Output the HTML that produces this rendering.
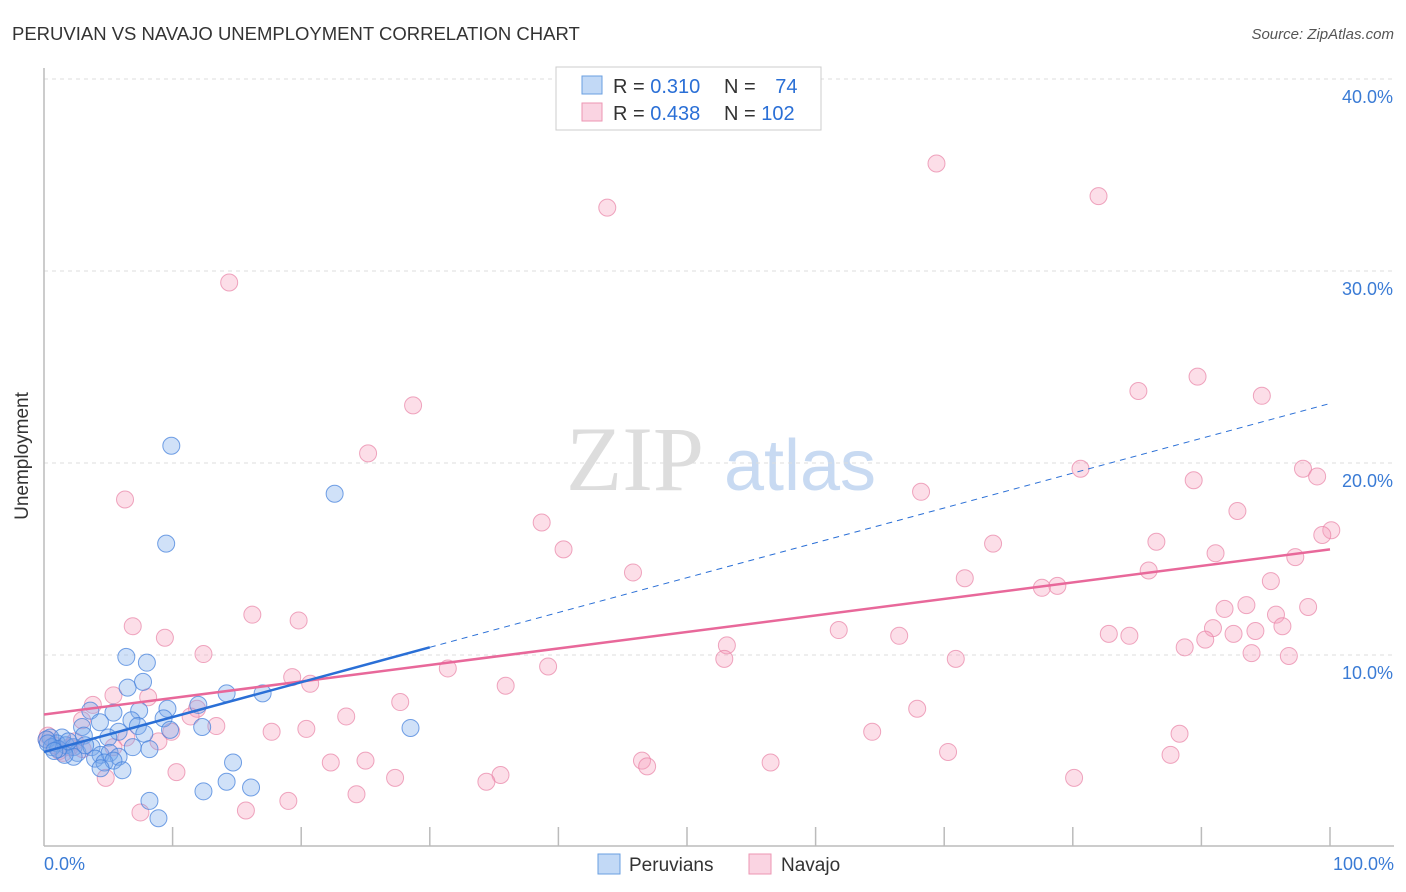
<!DOCTYPE html>
<html><head><meta charset="utf-8"><style>
body{margin:0;background:#fff;font-family:"Liberation Sans",sans-serif;}
svg{display:block}
</style></head><body>
<svg id="chart" width="1406" height="892">
<text x="12" y="40" font-size="18.5" fill="#333">PERUVIAN VS NAVAJO UNEMPLOYMENT CORRELATION CHART</text>
<text x="1394" y="39" font-size="15" fill="#555" font-style="italic" text-anchor="end">Source: ZipAtlas.com</text>
<g>
<text x="635" y="490" font-size="92" fill="#ddd" font-family="Liberation Serif,serif" text-anchor="middle">ZIP</text>
<text x="800" y="490" font-size="72" fill="#c8daf2" text-anchor="middle">atlas</text>
</g>
<g id="grid"></g>
<g id="axes"></g>
<g id="pts"></g>
<g id="lines"></g>
<text x="28" y="456" font-size="19" fill="#333" text-anchor="middle" transform="rotate(-90 28 456)">Unemployment</text>
<g>
<rect x="556" y="67" width="265" height="63" fill="#fff" stroke="#ccc"/>
<rect x="582" y="76" width="20" height="18" fill="rgba(120,170,235,0.45)" stroke="#6a9fe0"/>
<rect x="582" y="103" width="20" height="18" fill="rgba(245,160,190,0.45)" stroke="#ec96b3"/>
<text x="613" y="93" font-size="20" fill="#333">R = <tspan fill="#2a6fd6">0.310</tspan></text>
<text x="724" y="93" font-size="20" fill="#333">N = <tspan fill="#2a6fd6" dx="14">74</tspan></text>
<text x="613" y="120" font-size="20" fill="#333">R = <tspan fill="#2a6fd6">0.438</tspan></text>
<text x="724" y="120" font-size="20" fill="#333">N = <tspan fill="#2a6fd6">102</tspan></text>
</g>
<g>
<rect x="598" y="854" width="22" height="20" fill="rgba(120,170,235,0.45)" stroke="#6a9fe0"/>
<text x="629" y="871" font-size="19" fill="#333">Peruvians</text>
<rect x="749" y="854" width="22" height="20" fill="rgba(245,160,190,0.45)" stroke="#ec96b3"/>
<text x="781" y="871" font-size="19" fill="#333">Navajo</text>
</g>
<text x="44" y="870" font-size="18" fill="#3a7bd5">0.0%</text>
<text x="1394" y="870" font-size="18" fill="#3a7bd5" text-anchor="end">100.0%</text>
</svg>
<script>
const yTicks=[10,20,30,40];
const yTickLabels=["10.0%","20.0%","30.0%","40.0%"];
const blueX=[9.9,22.6,9.5,6.4,8.0,6.5,7.7,17.0,14.2,12.0,9.6,3.6,7.4,5.4,9.3,28.5,12.3,2.96,4.35,6.8,7.3,5.8,7.8,3.1,5.0,9.8,6.9,8.2,1.4,0.5,1.0,1.7,2.3,2.6,3.7,4.4,5.1,5.8,3.97,2.3,1.6,4.7,5.4,4.4,6.1,14.7,14.2,16.1,12.4,8.2,8.9,0.2,0.6,1.1,0.3,1.9,3.2,0.8];
const blueY=[20.9,18.4,15.8,9.9,9.6,8.3,8.6,8.0,8.0,7.4,7.2,7.1,7.1,7.0,6.7,6.2,6.25,6.25,6.5,6.6,6.3,6.0,5.9,5.8,5.7,6.1,5.2,5.1,5.7,5.7,5.4,5.3,5.2,4.9,5.2,4.8,4.9,4.7,4.6,4.7,4.8,4.4,4.5,4.1,4.0,4.4,3.4,3.1,2.9,2.4,1.5,5.6,5.2,5.1,5.4,5.5,5.3,5.0];
const pinkX=[69.4,82.0,43.8,14.4,28.7,89.7,85.1,94.7,25.2,80.6,97.9,99.0,89.4,68.2,6.3,92.8,38.7,100.1,99.4,86.5,73.8,40.4,91.1,97.3,85.9,45.8,71.6,95.4,77.6,78.8,93.5,91.8,98.3,95.8,16.2,19.8,6.9,96.3,90.9,94.2,92.5,61.8,82.8,84.4,66.5,9.4,90.3,53.1,88.7,93.9,12.4,96.8,52.9,70.9,39.2,31.4,19.3,20.7,35.9,5.4,8.1,27.7,3.8,11.9,67.9,23.5,11.4,2.96,13.4,20.4,17.7,9.9,88.3,64.4,6.4,8.9,0.3,5.4,70.3,87.6,46.5,22.3,25.0,56.5,46.9,10.3,35.5,4.8,80.1,27.3,34.4,24.3,19.0,15.7,7.5,2.0,1.2,2.4,0.8,3.0,1.5,0.2];
const pinkY=[35.6,33.9,33.3,29.4,23.0,24.5,23.75,23.5,20.5,19.7,19.7,19.3,19.1,18.5,18.1,17.5,16.9,16.5,16.25,15.9,15.8,15.5,15.3,15.1,14.4,14.3,14.0,13.85,13.5,13.6,12.6,12.4,12.5,12.1,12.1,11.8,11.5,11.5,11.4,11.25,11.1,11.3,11.1,11.0,11.0,10.9,10.8,10.5,10.4,10.1,10.05,9.95,9.8,9.8,9.4,9.3,8.85,8.5,8.4,7.9,7.8,7.55,7.4,7.2,7.2,6.8,6.8,6.6,6.3,6.15,6.0,6.0,5.9,6.0,5.7,5.5,5.8,5.2,4.95,4.8,4.5,4.4,4.5,4.4,4.2,3.9,3.75,3.6,3.6,3.6,3.4,2.75,2.4,1.9,1.8,5.2,5.0,5.5,5.3,5.1,4.9,5.6];
const blueTrend=[4.95,10.4,23.1];
const blueTrendX=[0,30,100];
const pinkTrend=[6.9,15.5];
const pinkTrendX=[0,100];
const NS="http://www.w3.org/2000/svg";
const xs=v=>44+v*12.86, ys=v=>847-v*19.2;
function mk(tag,attrs,parent){const e=document.createElementNS(NS,tag);for(const k in attrs)e.setAttribute(k,attrs[k]);parent.appendChild(e);return e;}
const grid=document.getElementById('grid'),axes=document.getElementById('axes'),pts=document.getElementById('pts'),lines=document.getElementById('lines');
yTicks.forEach((t,i)=>{
 const l=mk('line',{x1:44,x2:1394,y1:ys(t),y2:ys(t),stroke:'#ddd','stroke-dasharray':'4,4'},grid);
 
 
 const tx=mk('text',{x:1393,y:ys(t)+24,'font-size':18,fill:'#3a7bd5','text-anchor':'end'},axes);
 tx.textContent=yTickLabels[i];
 
 
});
const ya=mk('line',{x1:44,x2:44,y1:68,y2:846,stroke:'#bbb','stroke-width':1.5},axes);


const xa=mk('line',{x1:44,x2:1394,y1:846,y2:846,stroke:'#bbb','stroke-width':1.5},axes);


for(let k=1;k<=10;k++){
 const t=mk('line',{x1:xs(k*10),x2:xs(k*10),y1:827,y2:846,stroke:'#bbb','stroke-width':1.5},axes);
 
 
}
pinkX.forEach((v,i)=>{
 const c=mk('circle',{cx:xs(v),cy:ys(pinkY[i]),r:8.5,fill:'rgba(245,160,190,0.35)',stroke:'rgba(232,130,165,0.7)','stroke-width':1},pts);
 
 
});
blueX.forEach((v,i)=>{
 const c=mk('circle',{cx:xs(v),cy:ys(blueY[i]),r:8.5,fill:'rgba(120,170,235,0.35)',stroke:'rgba(70,130,220,0.75)','stroke-width':1},pts);
 
 
});
const pl=mk('line',{x1:xs(pinkTrendX[0]),y1:ys(pinkTrend[0]),x2:xs(pinkTrendX[1]),y2:ys(pinkTrend[1]),stroke:'#e8689a','stroke-width':2.5},lines);


const bl=mk('line',{x1:xs(blueTrendX[0]),y1:ys(blueTrend[0]),x2:xs(blueTrendX[1]),y2:ys(blueTrend[1]),stroke:'#2a6fd6','stroke-width':2.5},lines);


const bd=mk('line',{x1:xs(blueTrendX[1]),y1:ys(blueTrend[1]),x2:xs(blueTrendX[2]),y2:ys(blueTrend[2]),stroke:'#2a6fd6','stroke-width':1,'stroke-dasharray':'6,5'},lines);


</script>
</body></html>
